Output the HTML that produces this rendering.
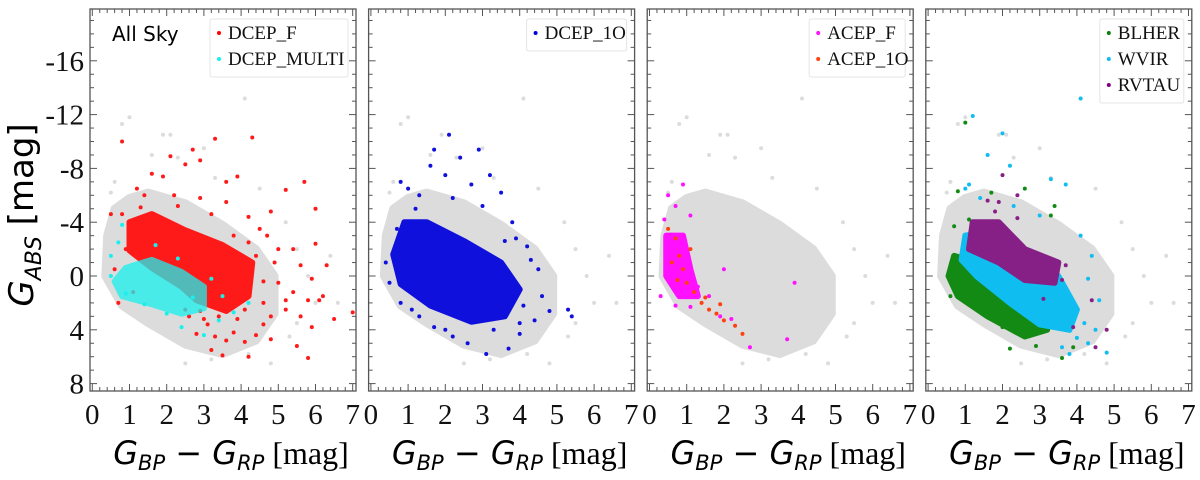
<!DOCTYPE html>
<html><head><meta charset="utf-8"><style>
html,body{margin:0;padding:0;background:#fff;width:1200px;height:480px;overflow:hidden}
svg{display:block}
.tk{font-family:"Liberation Serif",serif;font-size:29px;fill:#111}
.lg{font-family:"Liberation Serif",serif;font-size:19px;fill:#111}
</style></head><body>
<svg id="c" width="1200" height="480"></svg>
<script>
const xTicks=[0,1,2,3,4,5,6,7];
const yTicks=[-16,-12,-8,-4,0,4,8];
const greyEnvelope=[[0.4,-3],[0.6,-5],[1,-5.8],[1.5,-6.2],[2.5,-5.4],[3.5,-3.8],[4.4,-2],[4.9,0],[4.9,2.8],[4.4,4.8],[3.5,5.8],[2.5,5.1],[1.5,3.5],[0.8,2.2],[0.35,0]];
const greyPts=[[1.0,-11.8],[0.8,-11.3],[1.9,-10.5],[2.1,-10.5],[4.1,-13.2],[1.6,-9],[2.3,-8.8],[3,-9.5],[0.6,-7],[0.5,-6.2],[3.3,-7.3],[4.5,-6.5],[5.2,-4],[5.5,-2],[5.8,0],[6,2],[5.5,3.5],[4.8,6.5],[4.2,5.8],[3.2,6.2],[2.5,6.5],[5.3,4.5],[6.4,-1.5],[6.6,2]];
const redCore=[[1,-4],[1.6,-4.6],[2.5,-3.4],[3.5,-2.3],[4.3,-1],[4.2,1.5],[3.6,2.6],[2.8,1.8],[2.4,0.8],[1.6,-0.6],[1,-1.9]];
const redPts=[[0.8,-10],[3.3,-10.2],[4.3,-10.3],[2.7,-9.4],[2.1,-8.9],[2.9,-8.6],[2.5,-8.3],[1.6,-7.6],[1.9,-7.4],[3.9,-7.4],[5.7,-7],[3.6,-7],[5.2,-6.4],[6,-5],[1.2,-6.5],[1.4,-6],[2.2,-6],[2.9,-5.8],[3.6,-5.5],[4.8,-4.8],[4.2,-4.4],[4.7,-3],[5,-2],[5.4,-2],[6,-2.4],[6.3,-0.8],[5.6,-0.8],[5.9,0.2],[5,0.5],[4.6,0.4],[5.4,1.2],[5.8,1.8],[6.1,1.8],[6.5,3.2],[7,2.7],[5.9,3.8],[5.5,5.2],[5.8,6.1],[4.8,4.7],[4.2,6],[3.5,5.9],[3.2,5.5],[3.8,4.2],[4.4,4.4],[4.8,3],[5.2,2.5],[2.8,4.3],[2.6,3],[3.1,3.6],[3.9,3.2],[4.6,2],[0.5,-4.6],[0.8,-4.6],[0.9,-2],[0.6,-0.5],[1.3,-5.1],[2.3,-5.2],[3.2,-4.6],[3.8,-3],[4.1,2.5],[3.4,3],[2.9,2.6],[4.4,-1.5],[4.2,-2.5],[1.1,1.2],[0.7,2],[4.5,-3.5],[4.9,-1],[5.2,1.8],[4.6,3.6],[4.1,4.9],[3.6,4.8],[3.3,4.5],[3.0,3.2],[2.5,2.5],[5.6,3],[6.2,1.5]];
const cyanCore=[[0.9,-0.6],[1.6,-1.2],[2.4,-0.3],[3.0,0.8],[3.0,2.4],[2.4,2.8],[1.6,2.1],[0.8,1.5],[0.6,0.4]];
const cyanPts=[[0.8,-3.8],[0.7,-2.5],[0.5,-1.5],[0.5,0],[1.7,-2.3],[2.3,-1.3],[3.5,1.5],[3.4,3.3],[3,4.4],[2.4,3.8],[3.8,2.7],[4.2,2],[0.9,1.3],[2,2.8],[1.4,2.1],[2.7,1.6],[3.2,0.2]];
const blueCore=[[0.9,-4],[1.5,-4],[2.5,-2.6],[3.5,-1],[4,1],[3.6,3],[2.7,3.4],[1.6,2.2],[0.8,0.6],[0.6,-1.6]];
const bluePts=[[2.1,-10.5],[1.7,-9.4],[2.9,-9.4],[2.4,-8.8],[1.6,-8.2],[2,-7.5],[3.2,-7.5],[0.8,-7],[1,-6.5],[2.7,-6.8],[3.5,-6.2],[1.3,-6],[2.2,-5.8],[3,-5.2],[3.8,-4],[4.2,-2.2],[4.5,-0.5],[4.6,1.5],[5.3,2.5],[5.4,3],[4.8,2.6],[4.4,3.3],[4,4.3],[3.7,5.4],[3.1,5.8],[2.6,5],[2.2,4.5],[1.7,3.8],[1.3,3],[0.8,2],[0.5,0.5],[0.4,-1],[3.3,4],[4,3.5],[3.6,-2.6],[0.7,-3.5],[1.2,-5],[4.3,-1.2],[3.9,-2.8],[4.1,2.2],[2.0,4],[1.1,2.5]];
const mageCore=[[0.45,-3],[0.9,-3],[1.1,-0.5],[1.3,1.5],[0.8,1.5],[0.45,0]];
const magePts=[[0.5,-6],[0.7,-5.2],[0.9,-6.8],[0.4,-4.2],[1.1,-4.5],[0.6,-2.5],[1.3,0.8],[1.6,1.5],[1.9,3],[2.2,3.2],[2.7,5.3],[2,-0.5],[3.7,4.7],[3.9,0.5],[1.1,2.3],[0.7,2.2],[0.3,1.5]];
const orngPts=[[0.5,-3.5],[0.7,-2.8],[0.8,-1.5],[0.9,-0.5],[1,0.5],[1.2,1.2],[1.4,2],[1.6,2.5],[1.8,2.8],[2.0,3.3],[2.3,3.7],[1.5,1.6],[0.6,-1],[1.1,-2],[0.75,0.3],[2.5,4.3],[1.9,2.1]];
const greenCore=[[0.7,-1.5],[1.3,-1],[2.2,0.5],[3,2.5],[3.2,4],[2.6,4.5],[1.6,3],[0.8,1.5],[0.55,0]];
const greenPts=[[1,-11.4],[0.8,-6.3],[1.7,-6.2],[2.6,-6.5],[3.4,-5.2],[3.3,-4.5],[0.7,-3.7],[1.1,-4.2],[2.7,1],[3.3,1.5],[3.5,2],[2.2,5.4],[2.9,5.2],[3.6,6.1],[3.9,5.3],[3.7,3.3],[2,3.8],[1.4,2.5],[0.6,1.5]];
const skyCore=[[1,-3],[1.7,-3.3],[2.6,-1.5],[3.5,0],[4,2.5],[3.8,4],[3,3.6],[2.2,2],[1.3,0],[0.9,-1.2]];
const skyPts=[[1.2,-11.9],[2,-10.6],[4.1,-13.2],[1.6,-9],[2.2,-8.2],[3.3,-7.2],[3.7,-6.8],[1.1,-6.8],[1,-6.5],[1.4,-5.8],[2.3,-5.2],[3,-4.5],[4.1,-3],[4.4,-1.5],[4.3,0.2],[4.6,1.8],[4.2,3.5],[4.8,5.7],[4.3,5],[4.5,4],[3.6,5.3],[4,4.6],[3.8,5.8]];
const purpCore=[[1.2,-4],[1.9,-4],[2.6,-2],[3.5,-1],[3.4,0.5],[2.6,0.3],[1.9,-1],[1.1,-2]];
const purpPts=[[2,-7.5],[1.6,-5.6],[1.9,-5.5],[2.4,-6],[1.8,-4.8],[2.4,-4.3],[3.1,-1.5],[3.7,-0.8],[3.6,0.3],[4.4,1.8],[4.8,4],[4.5,5.3],[3.9,3.8],[3.1,1.7]];
const panels=[
 {legend:[["DCEP_F","#ff0000"],["DCEP_MULTI","#19f0ee"]],layers:[[redCore,redPts,"#ff1a1a",1],[cyanCore,cyanPts,"#19f0ee",0.75]],lgw:138},
 {legend:[["DCEP_1O","#0000dd"]],layers:[[blueCore,bluePts,"#1010dd",1]],lgw:100},
 {legend:[["ACEP_F","#ff10ff"],["ACEP_1O","#ff4010"]],layers:[[mageCore,magePts,"#ff10ff",1],[null,orngPts,"#ff4010",1]],lgw:96},
 {legend:[["BLHER","#0a7f0a"],["WVIR","#10bdf0"],["RVTAU","#800080"]],layers:[[greenCore,greenPts,"#138a13",1],[skyCore,skyPts,"#10bdf0",1],[purpCore,purpPts,"#862086",1]],lgw:84}
];
const NS="http://www.w3.org/2000/svg",svg=document.getElementById('c');
function mk(t,a,p){const e=document.createElementNS(NS,t);for(const k in a)e.setAttribute(k,a[k]);(p||svg).appendChild(e);return e;}
const L0=90,PW=266,DX=278.6,T=9,B=391;
function X(i,v){return L0+i*DX+2.3+v*37.2;}
function Y(v){return 276+v*13.45;}
panels.forEach((p,i)=>{
 const g=mk('g',{});
 
 
 const l=L0+i*DX,r=l+PW;
 const clip=mk('clipPath',{id:'cl'+i},g);mk('rect',{x:l,y:T,width:PW,height:B-T},clip);
 const pg=mk('g',{'clip-path':'url(#cl'+i+')'},g);
 const gp=mk('polygon',{points:greyEnvelope.map(d=>X(i,d[0])+','+Y(d[1])).join(' '),fill:'#dcdcdc',stroke:'#dcdcdc','stroke-width':8,'stroke-linejoin':'round'},pg);
 
 
 greyPts.forEach(d=>{const c=mk('circle',{cx:X(i,d[0]),cy:Y(d[1]),r:2,fill:'#dcdcdc'},pg);
  
  });
 p.layers.forEach((ly,j)=>{
  if(ly[0]){const cp=mk('polygon',{points:ly[0].map(d=>X(i,d[0])+','+Y(d[1])).join(' '),fill:ly[2],'opacity':ly[3],stroke:ly[2],'stroke-width':6,'stroke-linejoin':'round'},pg);
   
   }
  ly[1].forEach(d=>{const c=mk('circle',{cx:X(i,d[0]),cy:Y(d[1]),r:2,fill:ly[2]},pg);
   
   });
 });
 const fr=mk('rect',{x:l,y:T,width:PW,height:B-T,fill:'none',stroke:'#555','stroke-width':1.3},g);
 
 
 for(let v=0;v<=7.001;v+=0.2){const x=X(i,v),big=Math.abs(v-Math.round(v))<0.01;const h=big?7:4;
  mk('line',{x1:x,x2:x,y1:B,y2:B-h,stroke:'#555'},g);mk('line',{x1:x,x2:x,y1:T,y2:T+h,stroke:'#555'},g);}
 for(let v=-19;v<=8;v++){const y=Y(v),h=v%4==0?7:4;
  mk('line',{x1:l,x2:l+h,y1:y,y2:y,stroke:'#555'},g);mk('line',{x1:r,x2:r-h,y1:y,y2:y,stroke:'#555'},g);}
 xTicks.forEach(v=>{const t=mk('text',{x:X(i,v),y:424,'text-anchor':'middle',class:'tk'},g);t.textContent=v;
  
  });
 const xt=mk('text',{x:l+PW/2+8,y:464,'text-anchor':'middle','font-size':32},g);
 
 
 xt.innerHTML='<tspan font-family="DejaVu Sans" font-style="italic">G</tspan><tspan font-family="DejaVu Sans" font-style="italic" font-size="21" dy="6">BP</tspan><tspan font-family="DejaVu Sans" dy="-6"> − </tspan><tspan font-family="DejaVu Sans" font-style="italic">G</tspan><tspan font-family="DejaVu Sans" font-style="italic" font-size="21" dy="6">RP</tspan><tspan font-family="Liberation Serif" dy="-6"> [mag]</tspan>';
 const n=p.legend.length,lw=p.lgw,lx=r-lw-8,ly0=19;
 const lg=mk('g',{},g);
 
 
 mk('rect',{x:lx,y:ly0,width:lw,height:n*26+6,fill:'#fff',stroke:'#e4e4e4',rx:2},lg);
 p.legend.forEach((e,k)=>{const yy=ly0+20+k*26;mk('circle',{cx:lx+9,cy:yy-6,r:2,fill:e[1]},lg);
  const t=mk('text',{x:lx+18,y:yy,class:'lg'},lg);t.textContent=e[0];
  
  });
 if(i==0){
  yTicks.forEach(v=>{const t=mk('text',{x:84,y:Y(v)+10,'text-anchor':'end',class:'tk'},g);t.textContent=v;
   
   });
  const s=mk('text',{x:112,y:41,'font-family':'DejaVu Sans','font-size':20},g);s.textContent='All Sky';
  
  
  const yt=mk('text',{transform:'translate(33,215) rotate(-90)','text-anchor':'middle','font-size':34,'font-family':'DejaVu Sans'},g);
  
  
  yt.innerHTML='<tspan font-style="italic">G</tspan><tspan font-style="italic" font-size="22" dy="8">ABS</tspan><tspan dy="-8"> [mag]</tspan>';
 }
});
</script>
</body></html>
